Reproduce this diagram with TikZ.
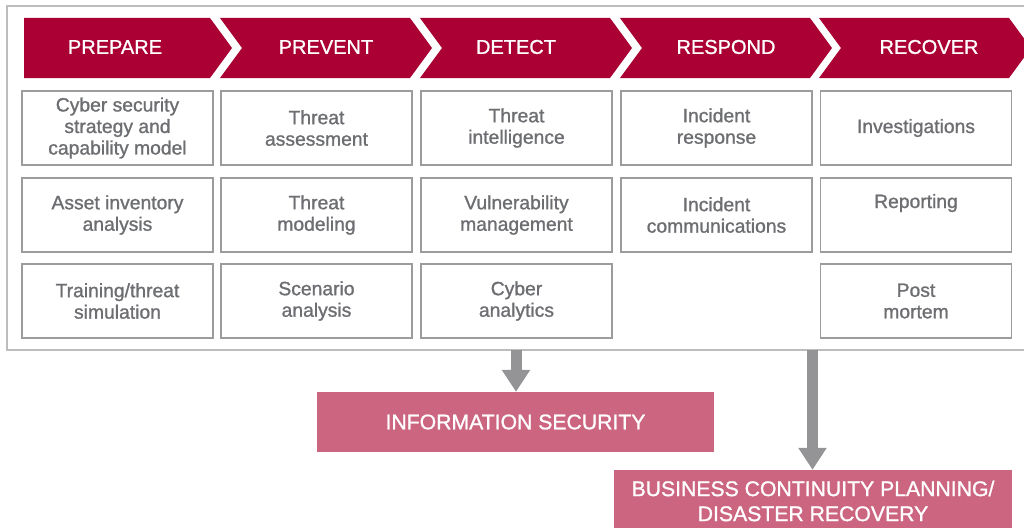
\documentclass[tikz,border=0pt]{standalone}
\usepackage{fontspec}
\setmainfont{Liberation Sans}
\newfontfamily\medfont{Liberation Sans}[FakeBold=1.1]
\usetikzlibrary{arrows.meta}
\definecolor{chevred}{HTML}{AA0033}
\definecolor{pinkbox}{HTML}{CC6580}
\definecolor{boxline}{HTML}{9C9C9E}
\definecolor{frameline}{HTML}{BDBDBF}
\definecolor{boxtext}{HTML}{6D6E71}
\definecolor{arrowgray}{HTML}{949497}
\tikzset{
  chevron/.style={fill=chevred, draw=none},
  phase/.style={text=white, font=\medfont\fontsize{20}{24}\selectfont, inner sep=0pt},
  activity/.style={draw=boxline, line width=1.6pt, fill=white,
    minimum width=191pt, minimum height=74pt, inner sep=0pt,
    text=boxtext, align=center, font=\medfont\fontsize{19.3}{21.5}\selectfont},
  outcome/.style={fill=pinkbox, text=white, align=center, inner sep=0pt,
    font=\medfont\fontsize{21.2}{25}\selectfont},
  flow/.style={draw=arrowgray, line width=11pt,
    -{Triangle[width=27pt,length=22pt]}},
}
\begin{document}
\begin{tikzpicture}[x=1pt,y=-1pt]
\useasboundingbox (0,0) rectangle (1024,527);
% outer frame
\draw[frameline, line width=1.6pt] (1030,6) -- (7,6) -- (7,350) -- (1030,350);
% phase chevrons
\fill[chevron] (24,18) -- (210,18) -- (232,48) -- (210,78) -- (24,78) -- cycle;
\foreach \x in {220,420,620,819}{
  \fill[chevron] (\x,18) -- (\x+190,18) -- (\x+212,48) -- (\x+190,78)
    -- (\x,78) -- (\x+22,48) -- cycle;
}
\node[phase] (prepare) at (115,47) {PREPARE};
\node[phase] (prevent) at (326,47) {PREVENT};
\node[phase] (detect)  at (516,47) {DETECT};
\node[phase] (respond) at (726,47) {RESPOND};
\node[phase] (recover) at (929,47) {RECOVER};
% activities, column by column
\node[activity] (c1r1) at (117.5,128) {Cyber security\\strategy and\\capability model};
\node[activity] (c1r2) at (117.5,215) {Asset inventory\\analysis};
\node[activity] (c1r3) at (117.5,301) {Training/threat\\simulation};
\node[activity] (c2r1) at (316.5,128) {Threat\\assessment};
\node[activity] (c2r2) at (316.5,215) {Threat\\modeling};
\node[activity] (c2r3) at (316.5,301) {Scenario\\analysis};
\node[activity] (c3r1) at (516.5,128) {Threat\\intelligence};
\node[activity] (c3r2) at (516.5,215) {Vulnerability\\management};
\node[activity] (c3r3) at (516.5,301) {Cyber\\analytics};
\node[activity] (c4r1) at (716.5,128) {Incident\\response};
\node[activity] (c4r2) at (716.5,215) {Incident\\communications};
\node[activity] (c5r1) at (916,128) {Investigations};
\node[activity] (c5r2) at (916,215) {Reporting\\\strut};
\node[activity] (c5r3) at (916,301) {Post\\mortem};
% outcomes
\node[outcome, minimum width=397pt, minimum height=60pt] (infosec) at (515.5,422)
  {INFORMATION SECURITY};
\node[outcome, minimum width=398pt, minimum height=62pt] (bcp) at (813,501)
  {BUSINESS CONTINUITY PLANNING/\\DISASTER RECOVERY};
% flows out of the frame
\coordinate (out1) at (516,350);
\coordinate (out2) at (812.5,350);
\draw[flow] (out1) -- (infosec.north -| out1);
\draw[flow] (out2) -- (bcp.north -| out2);
\end{tikzpicture}
\end{document}
